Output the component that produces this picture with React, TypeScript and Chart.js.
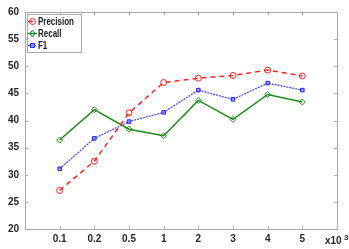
import React, { useEffect, useRef } from "react";
import { Chart, registerables } from "chart.js";

Chart.register(...registerables);

const xLabels = ["0.1", "0.2", "0.5", "1", "2", "3", "4", "5"];
const precision = [27.1, 32.5, 41.4, 47.0, 47.8, 48.3, 49.3, 48.2];
const recall = [36.4, 42.0, 38.4, 37.2, 43.7, 40.2, 44.8, 43.4];
const f1 = [31.1, 36.7, 39.8, 41.5, 45.6, 43.9, 46.9, 45.6];
const yTicks = [20, 25, 30, 35, 40, 45, 50, 55, 60];

const FONT = "'Liberation Sans', Arial, sans-serif";

const toPts = (arr: number[]) => arr.map((y, i) => ({ x: i + 1, y }));

const boxPlugin = {
  id: "boxPlugin",
  afterDraw(chart: any) {
    const { ctx, chartArea: a, scales } = chart;
    const xs = scales.x, ys = scales.y;
    ctx.save();
    ctx.strokeStyle = "#a8a8a8";
    ctx.lineWidth = 1;
    ctx.strokeRect(Math.round(a.left) + 0.5, Math.round(a.top) + 0.5, Math.round(a.right - a.left), Math.round(a.bottom - a.top));
    const tl = 3;
    ctx.beginPath();
    for (let i = 1; i <= xLabels.length; i++) {
      const px = Math.round(xs.getPixelForValue(i)) + 0.5;
      ctx.moveTo(px, a.bottom);
      ctx.lineTo(px, a.bottom - tl);
      ctx.moveTo(px, a.top);
      ctx.lineTo(px, a.top + tl);
    }
    for (const v of yTicks) {
      const py = Math.round(ys.getPixelForValue(v)) + 0.5;
      ctx.moveTo(a.left, py);
      ctx.lineTo(a.left + tl, py);
      ctx.moveTo(a.right, py);
      ctx.lineTo(a.right - tl, py);
    }
    ctx.stroke();

    // x10^3 label
    ctx.fillStyle = "#262626";
    ctx.font = `bold 10px ${FONT}`;
    ctx.textBaseline = "alphabetic";
    ctx.textAlign = "left";
    ctx.fillText("x10", a.right - 12, a.bottom + 15);
    ctx.font = `bold 8px ${FONT}`;
    ctx.fillText("3", a.right + 7, a.bottom + 11);

    // legend
    const lx = a.left + 2, ly = a.top + 2, lw = 54, lh = 38;
    ctx.fillStyle = "#ffffff";
    ctx.fillRect(lx, ly, lw, lh);
    ctx.strokeStyle = "#a8a8a8";
    ctx.strokeRect(lx + 0.5, ly + 0.5, lw, lh);
    const ds = chart.data.datasets;
    ds.forEach((d: any, i: number) => {
      const cy = ly + 7.5 + i * 12;
      ctx.save();
      ctx.strokeStyle = d.borderColor;
      ctx.lineWidth = d.borderWidth;
      ctx.setLineDash(d.borderDash || []);
      ctx.beginPath();
      ctx.moveTo(lx + 1, cy);
      ctx.lineTo(lx + 10, cy);
      ctx.stroke();
      ctx.setLineDash([]);
      ctx.lineWidth = 1;
      const mx = lx + 5.5;
      const r = d.pointRadius;
      ctx.beginPath();
      if (d.pointStyle === "circle") ctx.arc(mx, cy, r, 0, Math.PI * 2);
      else if (d.pointStyle === "rectRot") {
        ctx.moveTo(mx, cy - r - 0.5); ctx.lineTo(mx + r - 0.5, cy); ctx.lineTo(mx, cy + r + 0.5); ctx.lineTo(mx - r + 0.5, cy); ctx.closePath();
      } else ctx.rect(mx - r * 0.8, cy - r * 0.8, r * 1.6, r * 1.6);
      ctx.fillStyle = d.pointBackgroundColor;
      ctx.fill();
      ctx.strokeStyle = d.pointBorderColor;
      ctx.stroke();
      ctx.restore();
      ctx.save();
      ctx.fillStyle = "#1a1a1a";
      ctx.font = `bold 10.5px ${FONT}`;
      ctx.textBaseline = "middle";
      ctx.textAlign = "left";
      ctx.translate(lx + 11, cy + 0.5);
      ctx.scale(0.76, 1);
      ctx.fillText(d.label, 0, 0);
      ctx.restore();
    });
    ctx.restore();
  },
};

export default function App() {
  const ref = useRef<HTMLCanvasElement>(null);
  useEffect(() => {
    document.body.style.margin = "0";
    const c = new Chart(ref.current!, {
      type: "line",
      data: {
        datasets: [
          {
            label: "Precision",
            data: toPts(precision),
            borderColor: "#ff2020",
            borderWidth: 1.5,
            borderDash: [5, 4],
            pointStyle: "circle",
            pointRadius: 3,
            pointBorderWidth: 1,
            pointBorderColor: "#ff2020",
            pointBackgroundColor: "rgba(255,255,255,0)",
          },
          {
            label: "Recall",
            data: toPts(recall),
            borderColor: "#1a8a1a",
            borderWidth: 1.5,
            pointStyle: "rectRot",
            pointRadius: 3,
            pointBorderWidth: 1,
            pointBorderColor: "#1a8a1a",
            pointBackgroundColor: "rgba(255,255,255,0)",
          },
          {
            label: "F1",
            data: toPts(f1),
            borderColor: "#4a4aff",
            borderWidth: 1.3,
            borderDash: [2, 1],
            pointStyle: "rect",
            pointRadius: 2.5,
            pointBorderWidth: 1,
            pointBorderColor: "#2020ff",
            pointBackgroundColor: "rgba(120,120,255,0.6)",
          },
        ],
      } as any,
      options: {
        responsive: false,
        animation: false,
        layout: { padding: { top: 6, right: 12, left: 0, bottom: 0 } },
        plugins: { legend: { display: false }, tooltip: { enabled: false } },
        scales: {
          x: {
            type: "linear",
            min: 0,
            max: 9,
            grid: { display: false, drawTicks: false },
            border: { display: false },
            afterFit: (s: any) => { s.height = 20; },
            ticks: {
              stepSize: 1,
              autoSkip: false,
              maxRotation: 0,
              padding: 4,
              color: "#262626",
              font: { family: FONT, size: 10, weight: "bold" },
              callback: (v: any) => xLabels[Number(v) - 1] ?? "",
            },
          },
          y: {
            min: 20,
            max: 60,
            grid: { display: false, drawTicks: false },
            border: { display: false },
            afterFit: (s: any) => { s.width = 25; },
            ticks: {
              stepSize: 5,
              padding: 6,
              color: "#262626",
              font: { family: FONT, size: 10, weight: "bold" },
            },
          },
        },
      } as any,
      plugins: [boxPlugin],
    });
    return () => c.destroy();
  }, []);
  return (
    <div style={{ position: "absolute", left: 0, top: 0, width: 349, height: 249, background: "#fff" }}>
      <canvas ref={ref} width={349} height={249} style={{ width: 349, height: 249, display: "block" }} />
    </div>
  );
}
